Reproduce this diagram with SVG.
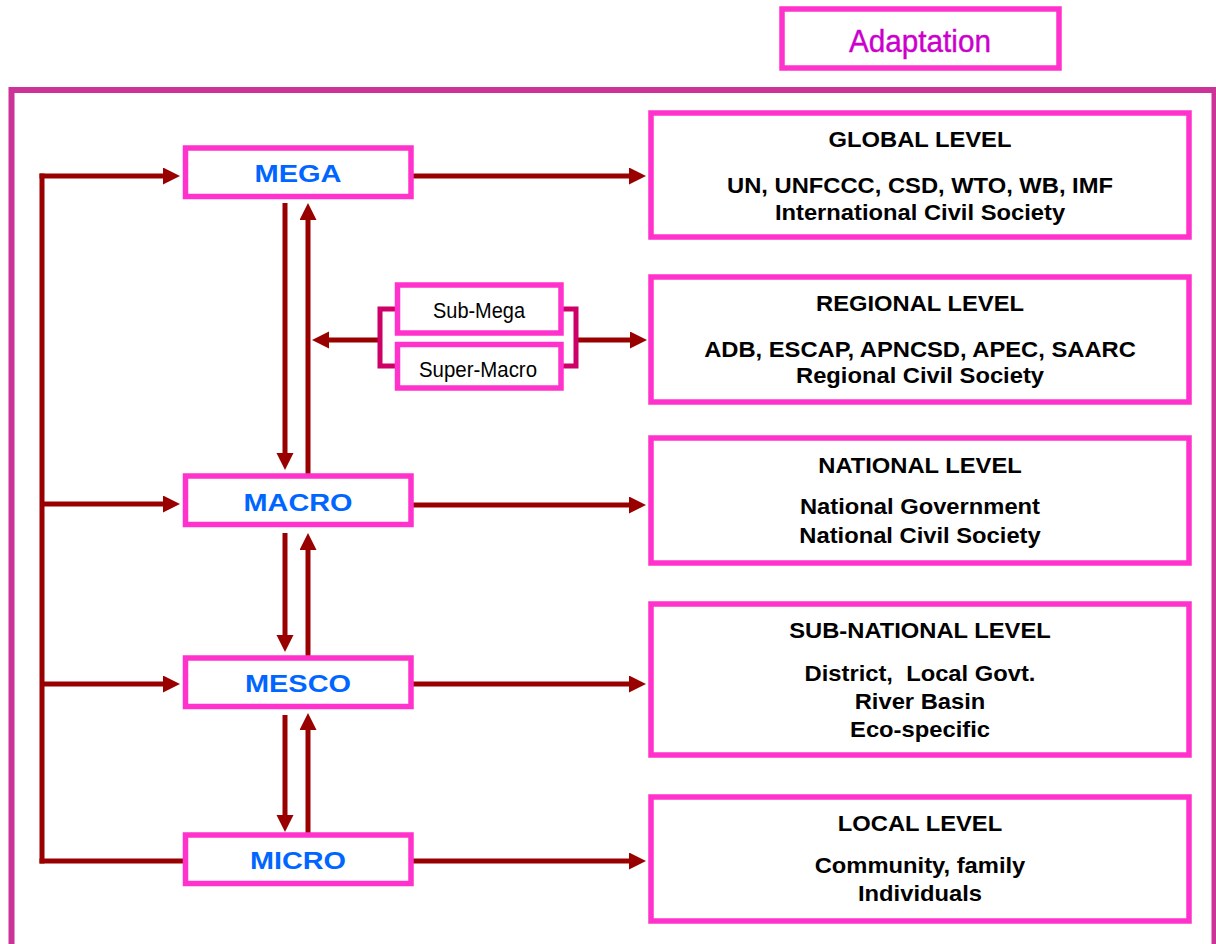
<svg xmlns="http://www.w3.org/2000/svg" width="1216" height="944" viewBox="0 0 1216 944">
<defs>
<style>
.box{fill:#fff;stroke:#FF33CC;stroke-width:5.5}
.con{fill:none;stroke:#990000;stroke-width:5}
.brk{fill:none;stroke:#CC0066;stroke-width:5}
.lvl{font-family:"Liberation Sans",Arial,sans-serif;font-weight:bold;font-size:24px;fill:#0066FF;text-anchor:middle}
.rt{font-family:"Liberation Sans",Arial,sans-serif;font-weight:bold;font-size:22px;fill:#000;text-anchor:middle}
.sub{font-family:"Liberation Sans",Arial,sans-serif;font-size:22px;fill:#000;text-anchor:middle}
</style>
<marker id="ah" markerUnits="userSpaceOnUse" markerWidth="18" markerHeight="18" refX="1" refY="8.5" orient="auto">
<path d="M0,0 L17,8.5 L0,17 z" fill="#990000"/>
</marker>
</defs>
<rect width="1216" height="944" fill="#fff"/>
<rect id="frame" x="11.5" y="90" width="1203" height="900" fill="none" stroke="#CC3399" stroke-width="6"/>
<g id="adaptation">
<rect x="782" y="9" width="277" height="59" fill="#fff" stroke="#FF33CC" stroke-width="5.5"/>
<text x="920" y="52" font-family="'Liberation Sans',Arial,sans-serif" font-size="31" fill="#CC00CC" stroke="#CC00CC" stroke-width="0.4" text-anchor="middle" textLength="142" lengthAdjust="spacingAndGlyphs">Adaptation</text>
</g>
<g id="connectors">
<path class="con" d="M42,173.5 V863.5"/>
<path class="con" d="M39.5,176 H164" marker-end="url(#ah)"/>
<path class="con" d="M42,504 H164" marker-end="url(#ah)"/>
<path class="con" d="M42,684 H164" marker-end="url(#ah)"/>
<path class="con" d="M39.5,861 H185"/>
<path class="con" d="M411,176 H630" marker-end="url(#ah)"/>
<path class="con" d="M411,505 H630" marker-end="url(#ah)"/>
<path class="con" d="M411,684 H630" marker-end="url(#ah)"/>
<path class="con" d="M411,861 H630" marker-end="url(#ah)"/>
<path class="con" d="M285,203 V454" marker-end="url(#ah)"/>
<path class="con" d="M308,474 V219" marker-end="url(#ah)"/>
<path class="con" d="M285,533 V636" marker-end="url(#ah)"/>
<path class="con" d="M308,656 V549" marker-end="url(#ah)"/>
<path class="con" d="M285,715 V816" marker-end="url(#ah)"/>
<path class="con" d="M308,836 V729" marker-end="url(#ah)"/>
<path class="con" d="M380,340 H328" marker-end="url(#ah)"/>
<path class="con" d="M576,340 H631" marker-end="url(#ah)"/>
<path class="brk" d="M398,309 H380 V366 H398"/>
<path class="brk" d="M561,309 H576 V366 H561"/>
</g>
<g id="mega"><rect class="box" x="185.5" y="148" width="225.5" height="48.5"/><text class="lvl" x="298" y="182" textLength="87" lengthAdjust="spacingAndGlyphs">MEGA</text></g>
<g id="macro"><rect class="box" x="185.5" y="476" width="225.5" height="48.5"/><text class="lvl" x="298" y="510.5" textLength="109" lengthAdjust="spacingAndGlyphs">MACRO</text></g>
<g id="mesco"><rect class="box" x="185.5" y="658" width="225.5" height="48.5"/><text class="lvl" x="298" y="692" textLength="106" lengthAdjust="spacingAndGlyphs">MESCO</text></g>
<g id="micro"><rect class="box" x="185.5" y="835" width="225.5" height="48.5"/><text class="lvl" x="298" y="869" textLength="96" lengthAdjust="spacingAndGlyphs">MICRO</text></g>
<g id="submega"><rect class="box" x="397.5" y="285" width="163.5" height="48"/><text class="sub" x="479" y="318" textLength="92" lengthAdjust="spacingAndGlyphs">Sub-Mega</text></g>
<g id="supermacro"><rect class="box" x="397.5" y="344.5" width="163.5" height="43.5"/><text class="sub" x="478" y="377" textLength="118" lengthAdjust="spacingAndGlyphs">Super-Macro</text></g>
<g id="global"><rect class="box" x="651" y="113" width="538" height="124"/>
<g transform="translate(920 0) scale(1.08 1)"><text class="rt" x="0" y="147">GLOBAL LEVEL</text><text class="rt" x="0" y="193">UN, UNFCCC, CSD, WTO, WB, IMF</text><text class="rt" x="0" y="220">International Civil Society</text></g></g>
<g id="regional"><rect class="box" x="651" y="277" width="538" height="125"/>
<g transform="translate(920 0) scale(1.08 1)"><text class="rt" x="0" y="311">REGIONAL LEVEL</text><text class="rt" x="0" y="357">ADB, ESCAP, APNCSD, APEC, SAARC</text><text class="rt" x="0" y="383.5">Regional Civil Society</text></g></g>
<g id="national"><rect class="box" x="651" y="438" width="538" height="125"/>
<g transform="translate(920 0) scale(1.08 1)"><text class="rt" x="0" y="473">NATIONAL LEVEL</text><text class="rt" x="0" y="514.5">National Government</text><text class="rt" x="0" y="543">National Civil Society</text></g></g>
<g id="subnational"><rect class="box" x="651" y="604" width="538" height="151"/>
<g transform="translate(920 0) scale(1.08 1)"><text class="rt" x="0" y="638">SUB-NATIONAL LEVEL</text><text class="rt" x="0" y="681" xml:space="preserve">District,  Local Govt.</text><text class="rt" x="0" y="709">River Basin</text><text class="rt" x="0" y="737">Eco-specific</text></g></g>
<g id="local"><rect class="box" x="651" y="797" width="538" height="124"/>
<g transform="translate(920 0) scale(1.08 1)"><text class="rt" x="0" y="831">LOCAL LEVEL</text><text class="rt" x="0" y="873.5">Community, family</text><text class="rt" x="0" y="901">Individuals</text></g></g>
</svg>
